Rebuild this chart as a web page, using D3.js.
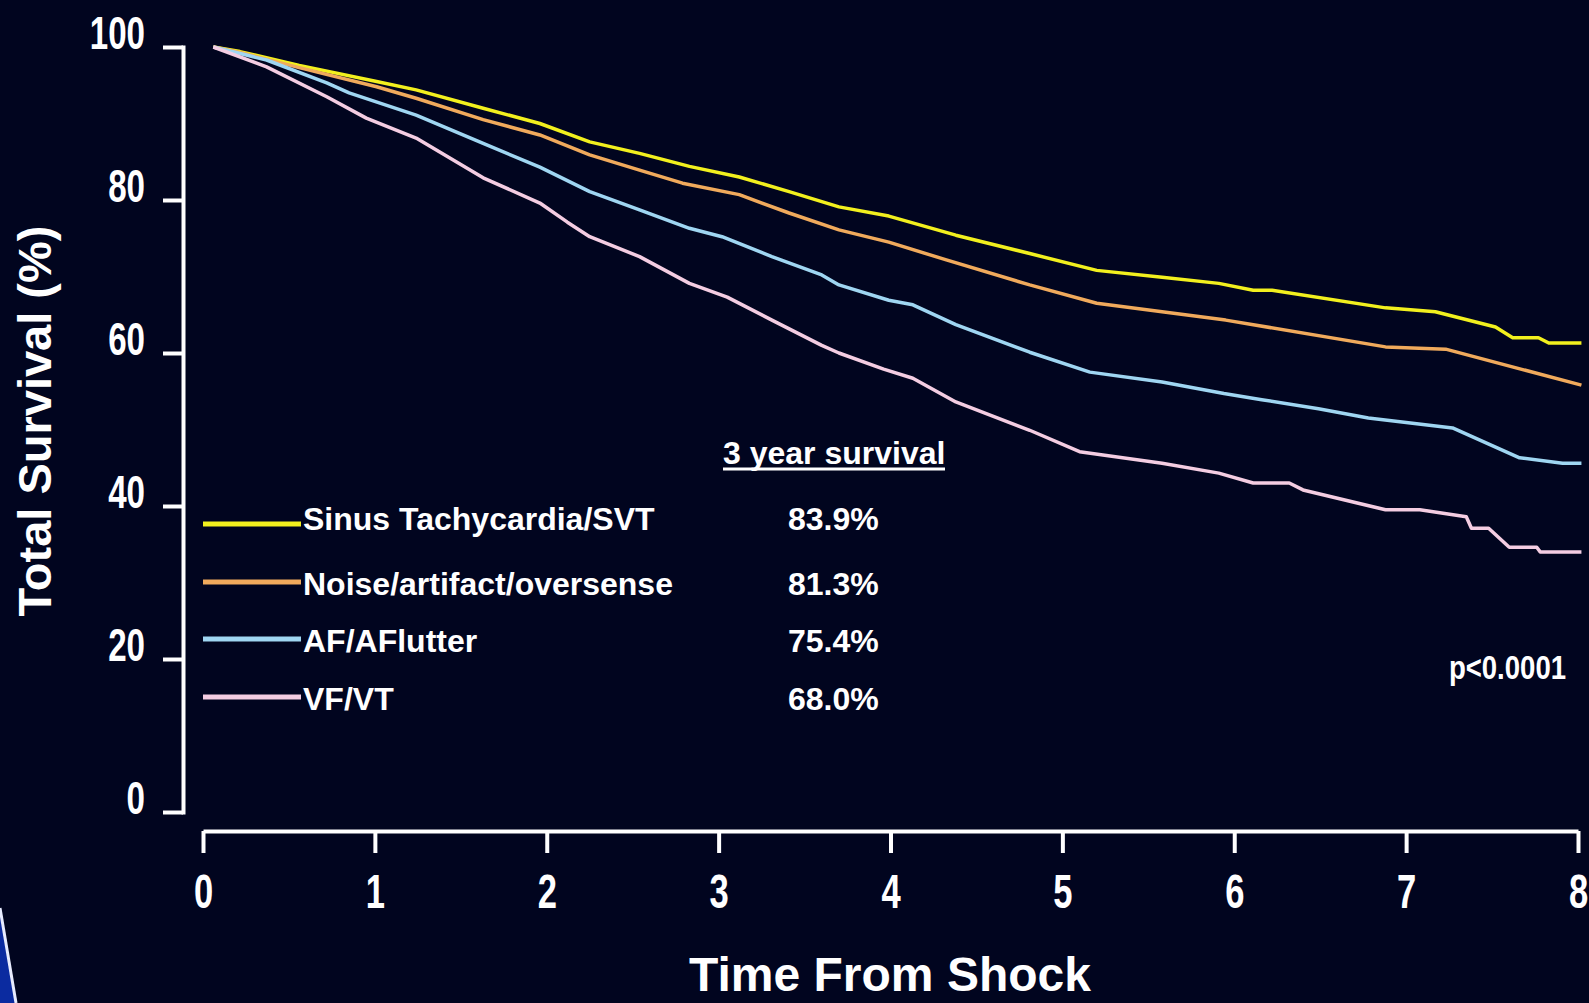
<!DOCTYPE html>
<html>
<head>
<meta charset="utf-8">
<script src="https://cdn.jsdelivr.net/npm/d3@7"></script>
<style>
  html, body { margin: 0; padding: 0; background: #01051f; overflow: hidden; }
  svg { display: block; }
  text { font-family: "Liberation Sans", Arial, Helvetica, sans-serif; fill: #ffffff; font-weight: bold; }
</style>
</head>
<body>
<svg id="chart" width="1589" height="1003"></svg>
<script>
// ---- data ----
const categories = ["Sinus Tachycardia/SVT", "Noise/artifact/oversense", "AF/AFlutter", "VF/VT"];
const survival3yr = ["83.9%", "81.3%", "75.4%", "68.0%"];
const xTicks = [0, 1, 2, 3, 4, 5, 6, 7, 8];
const yTicks = [0, 20, 40, 60, 80, 100];

const sinusData = [[0.06,100],[0.215,99.4],[0.56,97.6],[1.01,95.5],[1.24,94.4],[1.63,92.0],[1.96,90.0],[2.25,87.6],[2.54,86.1],[2.83,84.4],[3.12,83.0],[3.41,81.1],[3.70,79.1],[3.99,77.9],[4.38,75.4],[4.81,73.0],[5.20,70.8],[5.58,69.9],[5.91,69.1],[6.11,68.2],[6.22,68.2],[6.88,65.9],[7.17,65.4],[7.52,63.4],[7.62,62.0],[7.77,62.0],[7.83,61.3],[8.02,61.3]];
const noiseData = [[0.06,100],[0.215,99.3],[0.56,97.3],[1.01,94.8],[1.24,93.3],[1.63,90.5],[1.96,88.5],[2.25,85.9],[2.54,83.9],[2.79,82.2],[3.12,80.7],[3.41,78.3],[3.70,76.1],[3.99,74.5],[4.32,72.2],[4.81,68.9],[5.20,66.5],[5.58,65.4],[5.95,64.3],[6.88,60.8],[7.23,60.5],[8.02,55.8]];
const afData = [[0.06,100],[0.37,98.3],[0.72,95.3],[0.85,94.0],[1.24,91.1],[1.63,87.4],[1.96,84.3],[2.25,81.1],[2.54,78.7],[2.83,76.3],[3.02,75.2],[3.31,72.6],[3.60,70.2],[3.70,68.9],[3.99,66.9],[4.13,66.3],[4.38,63.7],[4.81,60.1],[5.16,57.5],[5.58,56.2],[5.94,54.7],[6.16,53.9],[6.49,52.7],[6.78,51.5],[7.27,50.2],[7.66,46.3],[7.91,45.6],[8.02,45.6]];
const vfData = [[0.06,100],[0.37,97.4],[0.72,93.5],[0.95,90.7],[1.24,88.1],[1.63,82.9],[1.96,79.6],[2.12,77.1],[2.25,75.2],[2.54,72.6],[2.83,69.1],[3.05,67.3],[3.31,64.3],[3.60,61.0],[3.70,60.0],[3.96,57.9],[4.13,56.7],[4.38,53.6],[4.81,49.9],[5.10,47.1],[5.58,45.6],[5.91,44.3],[6.11,43.0],[6.32,43.0],[6.40,42.1],[6.88,39.5],[7.08,39.5],[7.35,38.6],[7.38,37.1],[7.48,37.1],[7.60,34.6],[7.76,34.6],[7.78,34.0],[8.02,34.0]];

const seriesData = [sinusData, noiseData, afData, vfData];
const colors = ["#f2f01e", "#f0aa5c", "#9fd6f2", "#f4cde2"];

// ---- layout ----
const svg = d3.select("#chart");
svg.append("rect").attr("width", 1589).attr("height", 1003).attr("fill", "#01051f");

const x = d3.scaleLinear().domain([0, 8]).range([203, 1578]);
const y = d3.scaleLinear().domain([0, 100]).range([812, 47]);

// bottom-left slide decoration
svg.append("path").attr("d", "M0,915 L15,1003 L0,1003 Z").attr("fill", "#0b2ba0");
svg.append("line").attr("x1", 0).attr("y1", 908).attr("x2", 16).attr("y2", 1003)
  .attr("stroke", "#e8ecff").attr("stroke-width", 3);

// y axis
const yAxis = svg.append("g").attr("transform", "translate(183,0)")
  .call(d3.axisLeft(y).tickValues(yTicks).tickSize(20).tickSizeOuter(0).tickPadding(18));
yAxis.selectAll("path, line").attr("stroke", "#ffffff").attr("stroke-width", 4);
yAxis.select(".domain").attr("stroke-linecap", "square");
yAxis.selectAll(".tick text")
  .attr("x", null).attr("dy", "0.36em")
  .attr("transform", "translate(-38,-15) scale(0.72,1)")
  .attr("text-anchor", "end")
  .style("font-size", "46px").style("font-weight", "bold").attr("fill", "#ffffff");

// x axis
const xAxis = svg.append("g").attr("transform", "translate(0,831)")
  .call(d3.axisBottom(x).tickValues(xTicks).tickSize(22).tickSizeOuter(0).tickFormat(d3.format("d")));
xAxis.selectAll("path, line").attr("stroke", "#ffffff").attr("stroke-width", 4);
xAxis.selectAll(".tick text")
  .attr("y", null).attr("dy", "0.36em")
  .attr("transform", "translate(0,60) scale(0.72,1)")
  .attr("text-anchor", "middle")
  .style("font-size", "48px").style("font-weight", "bold").attr("fill", "#ffffff");
svg.selectAll(".domain").attr("fill", "none");

// curves
const line = d3.line().x(d => x(d[0])).y(d => y(d[1])).curve(d3.curveLinear);
seriesData.forEach((data, i) => {
  svg.append("path").datum(data)
    .attr("d", line)
    .attr("fill", "none")
    .attr("stroke", colors[i])
    .attr("stroke-width", 3.5)
    .attr("stroke-linejoin", "round");
});

// axis titles
svg.append("text").attr("transform", "translate(51,421) rotate(-90)")
  .attr("text-anchor", "middle").style("font-size", "47px").text("Total Survival (%)");
svg.append("text").attr("x", 890).attr("y", 991)
  .attr("text-anchor", "middle").style("font-size", "48px").text("Time From Shock");

// legend
const legendY = [524, 582, 639, 697];
const textBase = [530, 595, 652, 710];
categories.forEach((c, i) => {
  svg.append("line").attr("x1", 203).attr("x2", 301)
    .attr("y1", legendY[i]).attr("y2", legendY[i])
    .attr("stroke", colors[i]).attr("stroke-width", 5);
  svg.append("text").attr("x", 303).attr("y", textBase[i])
    .style("font-size", "32px").text(c);
  svg.append("text").attr("x", 788).attr("y", textBase[i])
    .style("font-size", "32px").text(survival3yr[i]);
});

// "3 year survival" header with underline
svg.append("text").attr("x", 723).attr("y", 464).style("font-size", "32px").text("3 year survival");
svg.append("line").attr("x1", 723).attr("x2", 945).attr("y1", 469).attr("y2", 469)
  .attr("stroke", "#ffffff").attr("stroke-width", 3);

// p-value
svg.append("text")
  .attr("transform", "translate(1566,679) scale(0.81,1)")
  .attr("text-anchor", "end")
  .style("font-size", "34px").text("p<0.0001");
</script>
</body>
</html>
